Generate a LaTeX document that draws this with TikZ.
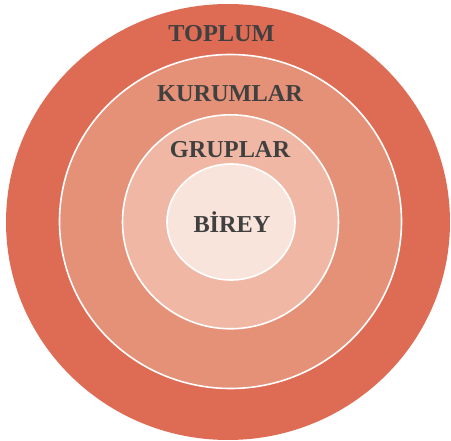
\documentclass[tikz,border=0pt]{standalone}
\usepackage{fontspec}
\setmainfont{Liberation Serif}
\definecolor{ringA}{RGB}{222,107,84}
\definecolor{ringB}{RGB}{229,145,120}
\definecolor{ringC}{RGB}{240,184,164}
\definecolor{ringD}{RGB}{249,228,220}
\definecolor{labeltext}{RGB}{64,64,64}
\begin{document}
\begin{tikzpicture}[x=1pt,y=-1pt,
  ring/.style={draw=white,line width=1.6pt},
  lbl/.style={font=\bfseries\fontsize{24.3}{27}\selectfont,text=labeltext,inner sep=0pt}]
\useasboundingbox (0,0) rectangle (451,441);
\fill[ringA] (228,222) ellipse [x radius=222,y radius=218];
\filldraw[ring,fill=ringB] (230.5,221.5) ellipse [x radius=171,y radius=167];
\filldraw[ring,fill=ringC] (230.5,221.8) ellipse [x radius=108,y radius=107];
\filldraw[ring,fill=ringD] (231,222) ellipse [x radius=64,y radius=58];
\node[lbl] (toplum) at (221.5,33.5) {TOPLUM};
\node[lbl] (kurumlar) at (230,94) {KURUMLAR};
\node[lbl] (gruplar) at (230,150) {GRUPLAR};
\node[lbl] (birey) at (232,222) {BİREY};
\end{tikzpicture}
\end{document}
